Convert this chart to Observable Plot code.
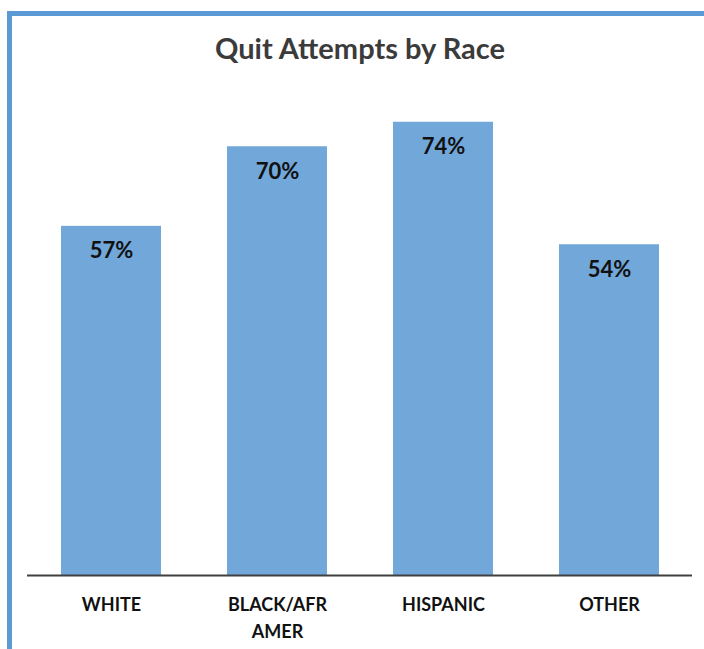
<!DOCTYPE html>
<html>
<head>
<meta charset="utf-8">
<script src="https://cdn.jsdelivr.net/npm/d3@7"></script>
<script src="https://cdn.jsdelivr.net/npm/@observablehq/plot@0.6"></script>
<style>
  html, body { margin: 0; padding: 0; background: #fff; }
  body { width: 704px; height: 649px; position: relative; overflow: hidden; font-family: Lato, "Open Sans", sans-serif; }
  #frame { position: absolute; left: 7px; top: 11px; width: 720px; height: 660px; border-top: 5px solid #5b9bd5; border-left: 5px solid #5b9bd5; box-sizing: border-box; }
  #title { position: absolute; left: 0; width: 720px; top: 31px; text-align: center; font-size: 29px; font-weight: bold; color: #3b3b3b; line-height: 34px; }
  #chart { position: absolute; left: 0; top: 80px; }
</style>
</head>
<body>
<div id="frame"></div>
<div id="title">Quit Attempts by Race</div>
<div id="chart"></div>
<script>
const categories = ["WHITE", "BLACK/AFR AMER", "HISPANIC", "OTHER"];
const tickLabels = ["WHITE", "BLACK/AFR\nAMER", "HISPANIC", "OTHER"];
const values = [57, 70, 74, 54];

const data = categories.map((c, i) => ({category: c, value: values[i], label: tickLabels[i]}));

const chart = Plot.plot({
  width: 704,
  height: 569,
  marginLeft: 27,
  marginRight: 12,
  marginTop: 5,
  marginBottom: 74,
  style: {fontFamily: "Lato, 'Open Sans', sans-serif", background: "transparent"},
  x: {domain: categories, paddingInner: 0.4, paddingOuter: 0.2, label: null},
  y: {domain: [0, 80], axis: null},
  marks: [
    Plot.barY(data, {x: "category", y: "value", fill: "#72a7d9"}),
    Plot.ruleY([0], {stroke: "#404040", strokeWidth: 2}),
    Plot.text(data, {x: "category", y: "value", text: d => d.value + "%", dy: 25, fontSize: 22, fontWeight: "bold", fill: "#111"}),
    Plot.axisX({
      tickSize: 0,
      tickPadding: 16,
      tickFormat: (d, i) => tickLabels[categories.indexOf(d)],
      fontSize: 18,
      fontWeight: "bold",
      lineHeight: 1.5,
      fill: "#111",
      label: null
    })
  ]
});
document.getElementById("chart").appendChild(chart);
</script>
</body>
</html>
